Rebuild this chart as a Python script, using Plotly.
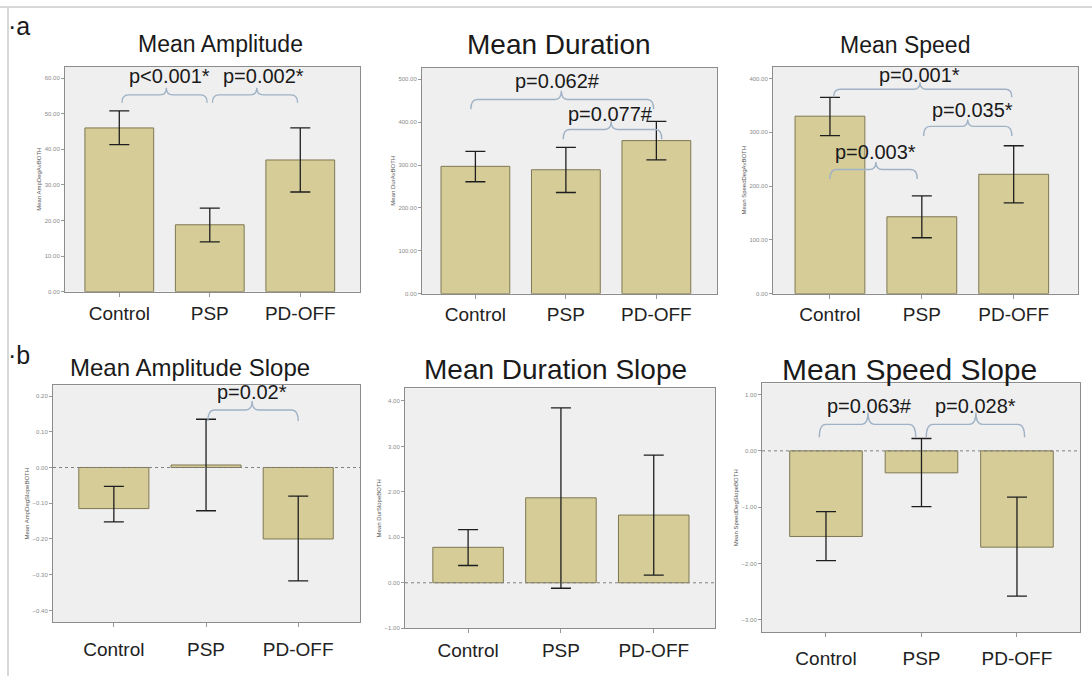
import plotly.graph_objects as go

# ---------------- data ----------------
categories = ["Control", "PSP", "PD-OFF"]

amp_mean = [46.0, 18.8, 37.0]
amp_lo = [41.3, 14.0, 28.0]
amp_hi = [50.8, 23.5, 46.0]

dur_mean = [297, 289, 357]
dur_lo = [261, 236, 312]
dur_hi = [332, 341, 402]

spd_mean = [330, 143, 222]
spd_lo = [294, 104, 169]
spd_hi = [365, 182, 275]

amps_mean = [-0.115, 0.007, -0.200]
amps_lo = [-0.152, -0.121, -0.317]
amps_hi = [-0.053, 0.135, -0.080]

durs_mean = [0.78, 1.87, 1.49]
durs_lo = [0.38, -0.12, 0.17]
durs_hi = [1.17, 3.85, 2.81]

spds_mean = [-1.52, -0.39, -1.71]
spds_lo = [-1.95, -0.99, -2.58]
spds_hi = [-1.08, 0.22, -0.82]

titles = ["Mean Amplitude", "Mean Duration", "Mean Speed",
          "Mean Amplitude Slope", "Mean Duration Slope", "Mean Speed Slope"]
ytitles = ["Mean AmpDegAvBOTH", "Mean DurAvBOTH", "Mean SpeedDegAvBOTH",
           "Mean AmpDegSlopeBOTH", "Mean DurSlopeBOTH", "Mean SpeedDegSlopeBOTH"]

# ---------------- layout geometry (pixels) ----------------
W, H = 1092, 679
boxes = [  # left, right, top, bottom
    (65, 360, 67, 293),
    (422, 717, 68, 295),
    (773, 1078, 67, 295),
    (53, 360, 387, 625),
    (405, 715, 390, 631),
    (762, 1080, 385, 635),
]
xranges = [(-0.60, 2.66), (-0.59, 2.67), (-0.62, 2.70),
           (-0.66, 2.67), (-0.68, 2.66), (-0.67, 2.66)]
yranges = [(0, 63.2), (0, 527), (0, 422),
           (-0.433, 0.23), (-1.0, 4.28), (-3.22, 1.2)]
ytickv = [[0, 10, 20, 30, 40, 50, 60],
          [0, 100, 200, 300, 400, 500],
          [0, 100, 200, 300, 400],
          [-0.4, -0.3, -0.2, -0.1, 0.0, 0.1, 0.2],
          [-1, 0, 1, 2, 3, 4],
          [-3, -2, -1, 0, 1]]
standoffs = [0, 0, 0, 6, 1, 5]
title_pos = [(220, 44), (559, 45), (905, 45), (190, 369), (555, 371), (909, 371)]
title_size = [23, 28, 23, 24, 28, 30]

means = [amp_mean, dur_mean, spd_mean, amps_mean, durs_mean, spds_mean]
los = [amp_lo, dur_lo, spd_lo, amps_lo, durs_lo, spds_lo]
his = [amp_hi, dur_hi, spd_hi, amps_hi, durs_hi, spds_hi]

FILL = "#d5cc98"
EDGE = "#7f7852"
BG = "#efefef"
FRAME = "#8c8c8c"
BRACE = "#9fb2c6"
FONT = "Liberation Sans, Arial, sans-serif"

fig = go.Figure()
xpos = list(range(len(categories)))

layout = dict(
    width=W, height=H, margin=dict(l=0, r=0, t=0, b=0),
    paper_bgcolor="white", plot_bgcolor=BG, showlegend=False,
    font=dict(family=FONT, color="#222"),
)

for i in range(6):
    k = "" if i == 0 else str(i + 1)
    l, r, t, b = boxes[i]
    fig.add_trace(go.Bar(
        x=xpos, y=means[i], xaxis="x" + k, yaxis="y" + k,
        width=0.76,
        marker=dict(color=FILL, line=dict(color=EDGE, width=1)),
        error_y=dict(type="data", symmetric=False,
                     array=[h - m for h, m in zip(his[i], means[i])],
                     arrayminus=[m - lo for m, lo in zip(means[i], los[i])],
                     color="#1e1e1e", thickness=1.3, width=10),
        hoverinfo="skip",
    ))
    layout["xaxis" + k] = dict(
        domain=[l / W, r / W], anchor="y" + k, range=list(xranges[i]),
        tickvals=xpos, ticktext=categories, ticks="outside", ticklen=4,
        tickcolor="#999", showline=True, mirror=True, linecolor=FRAME,
        linewidth=1, showgrid=False, zeroline=False, fixedrange=True,
        tickfont=dict(size=19, color="#222", family=FONT),
        ticklabelstandoff=standoffs[i],
    )
    layout["yaxis" + k] = dict(
        domain=[1 - b / H, 1 - t / H], anchor="x" + k, range=list(yranges[i]),
        tickvals=ytickv[i], tickformat=".2f", ticks="outside", ticklen=3,
        tickcolor="#999", showline=True, mirror=True, linecolor=FRAME,
        linewidth=1, showgrid=False, zeroline=False, fixedrange=True,
        tickfont=dict(size=6, color="#8a8a8a", family=FONT),
        title=dict(text=ytitles[i], font=dict(size=6, color="#555", family=FONT),
                   standoff=2),
    )

fig.update_layout(**layout)

# titles
for i, (tx, ty) in enumerate(title_pos):
    fig.add_annotation(text=titles[i], x=tx / W, y=1 - ty / H, xref="paper",
                       yref="paper", showarrow=False, xanchor="center",
                       yanchor="middle",
                       font=dict(size=title_size[i], color="#1a1a1a", family=FONT))

fig.add_annotation(text="·a", x=6 / W, y=1 - 26 / H, xref="paper", yref="paper",
                   xanchor="left", yanchor="middle", showarrow=False,
                   font=dict(size=25, color="#1a1a1a", family=FONT))
fig.add_annotation(text="·b", x=6 / W, y=1 - 357 / H, xref="paper", yref="paper",
                   xanchor="left", yanchor="middle", showarrow=False,
                   font=dict(size=25, color="#1a1a1a", family=FONT))

# frame lines of the composite picture
fig.add_shape(type="line", xref="paper", yref="paper", x0=0, x1=1,
              y0=1 - 7 / H, y1=1 - 7 / H, line=dict(color="#d8d8d8", width=2))
fig.add_shape(type="line", xref="paper", yref="paper", x0=8 / W, x1=8 / W,
              y0=0, y1=1 - 7 / H, line=dict(color="#d8d8d8", width=2))

# zero lines on slope panels
for i in (3, 4, 5):
    k = str(i + 1)
    fig.add_shape(type="line", xref="x" + k + " domain", yref="y" + k,
                  x0=0, x1=1, y0=0, y1=0,
                  line=dict(color="#808080", width=1, dash="dot"))

# significance braces: panel, x0, x1, xpeak, y_ends, y_line, y_peak, text, text_x, text_y
braces = [
    (0, 0.03, 0.97, 0.52, 53.1, 55.3, 57.3, "p<0.001*", 0.56, 60.6),
    (0, 1.03, 1.97, 1.52, 53.1, 55.3, 57.3, "p=0.002*", 1.59, 60.6),
    (1, -0.05, 1.97, 0.95, 430, 453, 473, "p=0.062#", 0.91, 496),
    (1, 0.97, 2.06, 1.50, 360, 383, 402, "p=0.077#", 1.49, 418),
    (2, 0.04, 1.98, 0.98, 365, 380, 393, "p=0.001*", 0.98, 407),
    (2, 1.02, 1.98, 1.50, 293, 311, 324, "p=0.035*", 1.55, 341),
    (2, 0.00, 0.95, 0.50, 213, 231, 245, "p=0.003*", 0.50, 263),
    (3, 1.02, 2.00, 1.50, 0.130, 0.161, 0.186, "p=0.02*", 1.50, 0.212),
    (5, -0.07, 0.94, 0.44, 0.24, 0.47, 0.68, "p=0.063#", 0.46, 0.80),
    (5, 1.05, 2.08, 1.57, 0.24, 0.47, 0.68, "p=0.028*", 1.57, 0.80),
]
for (p, x0, x1, xm, ye, yl, yp, txt, tx, ty) in braces:
    k = "" if p == 0 else str(p + 1)
    d = 0.07
    path = (f"M {x0},{ye} Q {x0},{yl} {x0 + d},{yl} L {xm - d},{yl} "
            f"Q {xm},{yl} {xm},{yp} Q {xm},{yl} {xm + d},{yl} "
            f"L {x1 - d},{yl} Q {x1},{yl} {x1},{ye}")
    fig.add_shape(type="path", path=path, xref="x" + k, yref="y" + k,
                  line=dict(color=BRACE, width=1.4))
    fig.add_annotation(text=txt, x=tx, y=ty, xref="x" + k, yref="y" + k,
                       showarrow=False, xanchor="center", yanchor="middle",
                       font=dict(size=20, color="#1a1a1a", family=FONT))

fig.write_html("out.html")
